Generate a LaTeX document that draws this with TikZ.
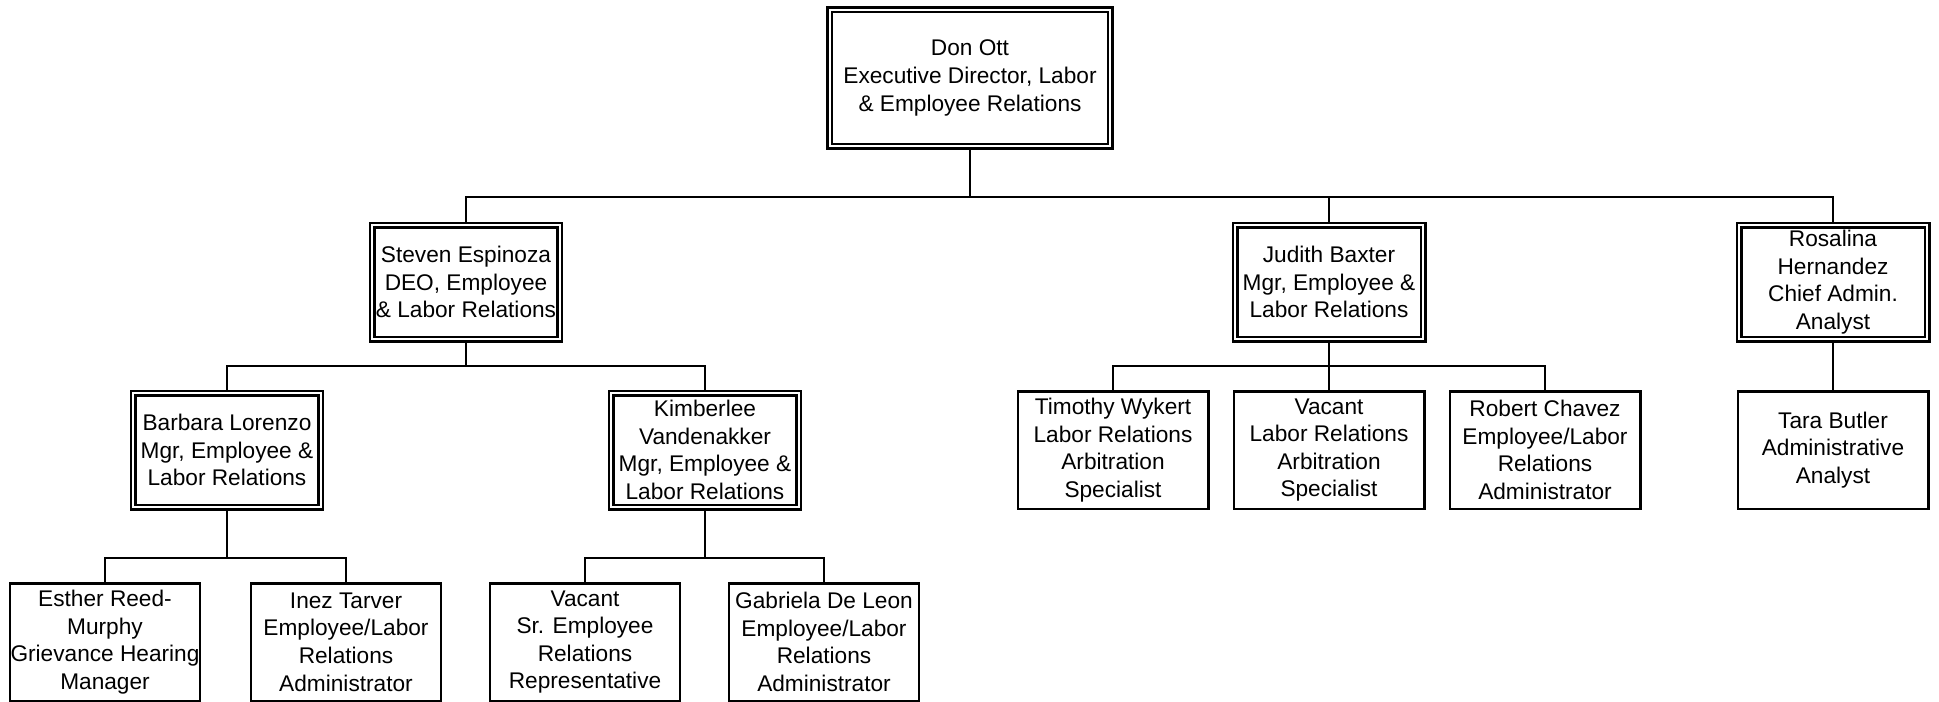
\documentclass[tikz,border=0pt]{standalone}
\usepackage{fontspec}
\setmainfont{Liberation Sans}
\usetikzlibrary{calc}
\tikzstyle{fManager} = [rectangle, draw=black, line width=0.05cm, double=white, double distance=0.04cm, minimum width=3.76cm, minimum height=2.28cm, inner sep=0pt, text centered, align=center, font=\fontsize{12.9}{15.7}\selectfont, execute at begin node={\rule{0pt}{13pt}}]
\tikzstyle{fStaff} = [rectangle, draw=black, line width=0.05cm, minimum width=3.81cm, minimum height=2.35cm, inner sep=0pt, text centered, align=center, font=\fontsize{12.9}{15.7}\selectfont, execute at begin node={\rule{0pt}{13pt}}]
\tikzstyle{fLine} = [line width=0.045cm]

\begin{document}
\begin{tikzpicture}[x=0.02cm, y=-0.02cm]
    \useasboundingbox (0,0) rectangle (1939,701);
    \clip (0,0) rectangle (1939,701);
    \coordinate (busTop) at (0,197);
    \coordinate (busMid) at (0,366);
    \coordinate (busLow) at (0,558);

    \node (don) [fManager, minimum width=5.62cm, minimum height=2.74cm] at (970,78) {Don Ott\\Executive Director, Labor\\\& Employee Relations};
    \node (steven) [fManager] at (466,282) {Steven Espinoza\\DEO, Employee\\\& Labor Relations};
    \node (judith) [fManager] at (1329,282) {Judith Baxter\\Mgr, Employee \&\\Labor Relations};
    \node (rosalina) [fManager] at (1833,282) {Rosalina\\Hernandez\\Chief Admin.\\Analyst};
    \node (barbara) [fManager] at (227,450) {Barbara Lorenzo\\Mgr, Employee \&\\Labor Relations};
    \node (kimberlee) [fManager] at (705,450) {Kimberlee\\Vandenakker\\Mgr, Employee \&\\Labor Relations};
    \node (timothy) [fStaff] at (1113,450) {Timothy Wykert\\Labor Relations\\Arbitration\\Specialist};
    \node (vacantArb) [fStaff] at (1329,450) {Vacant\\Labor Relations\\Arbitration\\Specialist};
    \node (robert) [fStaff] at (1545,450) {Robert Chavez\\Employee/Labor\\Relations\\Administrator};
    \node (tara) [fStaff] at (1833,450) {Tara Butler\\Administrative\\Analyst};
    \node (esther) [fStaff] at (105,642) {Esther Reed-\\Murphy\\Grievance Hearing\\Manager};
    \node (inez) [fStaff] at (346,642) {Inez Tarver\\Employee/Labor\\Relations\\Administrator};
    \node (vacantRep) [fStaff] at (585,642) {Vacant\\Sr. Employee\\Relations\\Representative};
    \node (gabriela) [fStaff] at (824,642) {Gabriela De Leon\\Employee/Labor\\Relations\\Administrator};

    \draw [fLine] (don.south) -- (don.south |- busTop) -| (steven.north);
    \draw [fLine] (don.south) -- (don.south |- busTop) -| (judith.north);
    \draw [fLine] (don.south) -- (don.south |- busTop) -| (rosalina.north);
    \draw [fLine] (steven.south) -- (steven.south |- busMid) -| (barbara.north);
    \draw [fLine] (steven.south) -- (steven.south |- busMid) -| (kimberlee.north);
    \draw [fLine] (judith.south) -- (judith.south |- busMid) -| (timothy.north);
    \draw [fLine] (judith.south) -- (vacantArb.north);
    \draw [fLine] (judith.south) -- (judith.south |- busMid) -| (robert.north);
    \draw [fLine] (rosalina.south) -- (tara.north);
    \draw [fLine] (barbara.south) -- (barbara.south |- busLow) -| (esther.north);
    \draw [fLine] (barbara.south) -- (barbara.south |- busLow) -| (inez.north);
    \draw [fLine] (kimberlee.south) -- (kimberlee.south |- busLow) -| (vacantRep.north);
    \draw [fLine] (kimberlee.south) -- (kimberlee.south |- busLow) -| (gabriela.north);
\end{tikzpicture}
\end{document}
